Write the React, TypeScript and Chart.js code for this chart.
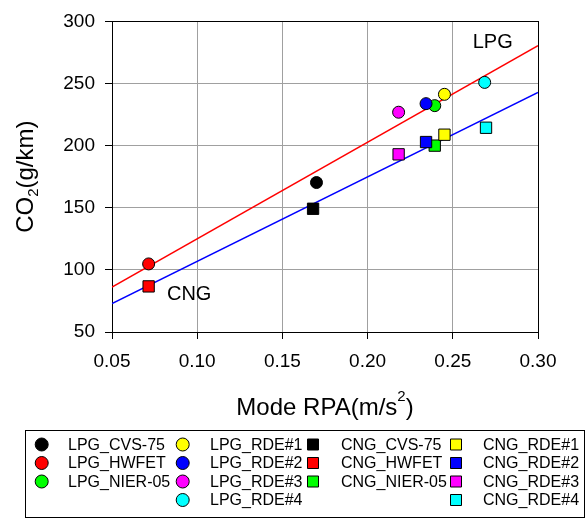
import React, { useEffect, useRef } from "react";
import { Chart, registerables } from "chart.js";

Chart.register(...registerables);

const LPG_NAMES = ["LPG_CVS-75", "LPG_HWFET", "LPG_NIER-05", "LPG_RDE#1", "LPG_RDE#2", "LPG_RDE#3", "LPG_RDE#4"];
const CNG_NAMES = ["CNG_CVS-75", "CNG_HWFET", "CNG_NIER-05", "CNG_RDE#1", "CNG_RDE#2", "CNG_RDE#3", "CNG_RDE#4"];
const MARKER_COLORS = ["#000000", "#ff0000", "#00ff00", "#ffff00", "#0000ff", "#ff00ff", "#00ffff"];

const LPG_RPA = [0.170, 0.0715, 0.2394, 0.2451, 0.2343, 0.2182, 0.2687];
const LPG_CO2 = [170.3, 104.8, 232.2, 241.3, 233.8, 226.9, 250.9];
const CNG_RPA = [0.168, 0.0715, 0.2394, 0.2451, 0.2343, 0.2182, 0.2695];
const CNG_CO2 = [149.2, 86.7, 200.0, 208.8, 202.9, 193.0, 214.4];

const FIT_RPA = [0.05, 0.30];
const LPG_FIT_CO2 = [86.2, 280.4];
const CNG_FIT_CO2 = [72.8, 242.9];

const X_TICKS = [0.05, 0.10, 0.15, 0.20, 0.25, 0.30];
const Y_TICKS = [50, 100, 150, 200, 250, 300];

const FIT_LABELS = ["LPG", "CNG"];
const FIT_LABEL_RPA = [0.2734, 0.0953];
const FIT_LABEL_CO2 = [283.2, 80.2];

const FONT = "'Liberation Sans', Arial, Helvetica, sans-serif";

export default function App() {
  const canvasRef = useRef<HTMLCanvasElement | null>(null);

  useEffect(() => {
    const canvas = canvasRef.current;
    if (!canvas) return;

    const pointSets: any[] = [];
    LPG_NAMES.forEach((name, i) => {
      pointSets.push({
        type: "scatter",
        label: name,
        data: [{ x: LPG_RPA[i], y: LPG_CO2[i] }],
        pointStyle: "circle",
        pointRadius: 6,
        backgroundColor: MARKER_COLORS[i],
        borderColor: "#000000",
        borderWidth: 1,
        order: -i,
      });
    });
    CNG_NAMES.forEach((name, i) => {
      pointSets.push({
        type: "scatter",
        label: name,
        data: [{ x: CNG_RPA[i], y: CNG_CO2[i] }],
        pointStyle: "rect",
        pointRadius: 8,
        backgroundColor: MARKER_COLORS[i],
        borderColor: "#000000",
        borderWidth: 1,
        order: -i - 10,
      });
    });

    const lineSets: any[] = [
      {
        type: "line",
        label: "LPG fit",
        data: FIT_RPA.map((x, i) => ({ x, y: LPG_FIT_CO2[i] })),
        borderColor: "#ff0000",
        borderWidth: 1.5,
        pointRadius: 0,
        fill: false,
        order: 100,
      },
      {
        type: "line",
        label: "CNG fit",
        data: FIT_RPA.map((x, i) => ({ x, y: CNG_FIT_CO2[i] })),
        borderColor: "#0000ff",
        borderWidth: 1.5,
        pointRadius: 0,
        fill: false,
        order: 101,
      },
    ];

    const framePlugin = {
      id: "frame",
      beforeDatasetsDraw(chart: any) {
        const { ctx, chartArea } = chart;
        ctx.save();
        ctx.strokeStyle = "#000000";
        ctx.lineWidth = 1;
        ctx.strokeRect(
          Math.round(chartArea.left) + 0.5,
          Math.round(chartArea.top) + 0.5,
          Math.round(chartArea.right) - Math.round(chartArea.left),
          Math.round(chartArea.bottom) - Math.round(chartArea.top)
        );
        ctx.restore();
      },
    };

    const textPlugin = {
      id: "texts",
      afterDraw(chart: any) {
        const { ctx, chartArea, scales } = chart;
        const xs = scales.x;
        const ys = scales.y;
        ctx.save();
        ctx.fillStyle = "#000000";
        ctx.textBaseline = "middle";
        ctx.textAlign = "center";

        // fit labels
        ctx.font = `20px ${FONT}`;
        FIT_LABELS.forEach((t, i) => {
          ctx.fillText(t, xs.getPixelForValue(FIT_LABEL_RPA[i]), ys.getPixelForValue(FIT_LABEL_CO2[i]));
        });

        // x title with superscript
        const big = `24px ${FONT}`;
        const small = `15px ${FONT}`;
        ctx.textAlign = "left";
        ctx.textBaseline = "alphabetic";
        ctx.font = big;
        const p1 = "Mode RPA(m/s";
        const p3 = ")";
        const w1 = ctx.measureText(p1).width;
        const w3 = ctx.measureText(p3).width;
        ctx.font = small;
        const w2 = ctx.measureText("2").width;
        const totalX = w1 + w2 + w3;
        const cx = (chartArea.left + chartArea.right) / 2;
        const baseX = 415;
        let sx = cx - totalX / 2;
        ctx.font = big;
        ctx.fillText(p1, sx, baseX);
        ctx.font = small;
        ctx.fillText("2", sx + w1, baseX - 14);
        ctx.font = big;
        ctx.fillText(p3, sx + w1 + w2, baseX);

        // y title with subscript (rotated)
        ctx.save();
        const cy = (chartArea.top + chartArea.bottom) / 2;
        ctx.translate(33, cy);
        ctx.rotate(-Math.PI / 2);
        ctx.font = big;
        const q1 = "CO";
        const q3 = "(g/km)";
        const v1 = ctx.measureText(q1).width;
        const v3 = ctx.measureText(q3).width;
        ctx.font = small;
        const v2 = ctx.measureText("2").width;
        let sy = -(v1 + v2 + v3) / 2;
        ctx.font = big;
        ctx.fillText(q1, sy, 0);
        ctx.font = small;
        ctx.fillText("2", sy + v1, 5);
        ctx.font = big;
        ctx.fillText(q3, sy + v1 + v2, 0);
        ctx.restore();

        // legend
        const boxL = 25, boxT = 430, boxW = 559, boxH = 87;
        ctx.strokeStyle = "#000000";
        ctx.lineWidth = 1;
        ctx.strokeRect(boxL + 0.5, boxT + 0.5, boxW, boxH);
        const markerX = [41.7, 182.7, 313, 456];
        const labelX = [68, 210, 341, 483];
        const rowY = [444.5, 463, 481.5, 500];
        const columns = [
          [0, 1, 2].map((i) => ({ name: LPG_NAMES[i], color: MARKER_COLORS[i], shape: "circle" })),
          [3, 4, 5, 6].map((i) => ({ name: LPG_NAMES[i], color: MARKER_COLORS[i], shape: "circle" })),
          [0, 1, 2].map((i) => ({ name: CNG_NAMES[i], color: MARKER_COLORS[i], shape: "rect" })),
          [3, 4, 5, 6].map((i) => ({ name: CNG_NAMES[i], color: MARKER_COLORS[i], shape: "rect" })),
        ];
        ctx.font = `16px ${FONT}`;
        ctx.textBaseline = "middle";
        ctx.textAlign = "left";
        columns.forEach((col, c) => {
          col.forEach((item, r) => {
            const mx = markerX[c];
            const my = rowY[r];
            ctx.fillStyle = item.color;
            ctx.strokeStyle = "#000000";
            ctx.beginPath();
            if (item.shape === "circle") {
              ctx.arc(mx, my, 6.5, 0, Math.PI * 2);
            } else {
              ctx.rect(mx - 5.5, my - 5.5, 11, 11);
            }
            ctx.fill();
            ctx.stroke();
            ctx.fillStyle = "#000000";
            ctx.fillText(item.name, labelX[c], my + 1);
          });
        });
        ctx.restore();
      },
    };

    const chart = new Chart(canvas, {
      type: "scatter",
      data: { datasets: [...lineSets, ...pointSets] },
      options: {
        animation: false,
        responsive: false,
        maintainAspectRatio: false,
        devicePixelRatio: 1,
        layout: { padding: { left: 0, right: 50, top: 8, bottom: 86 } },
        plugins: {
          legend: { display: false },
          tooltip: { enabled: false },
        },
        scales: {
          x: {
            type: "linear",
            min: 0.05,
            max: 0.30,
            afterBuildTicks: (scale: any) => {
              scale.ticks = X_TICKS.map((v) => ({ value: v }));
            },
            afterFit: (scale: any) => {
              scale.height = 100;
            },
            ticks: {
              color: "#000000",
              font: { family: FONT, size: 19 },
              padding: 11,
              maxRotation: 0,
              callback: (v: any) => Number(v).toFixed(2),
            },
            grid: {
              color: "#a0a0a0",
              lineWidth: 1,
              tickColor: "#000000",
              tickLength: 7,
            },
            border: { color: "#000000", width: 1 },
          },
          y: {
            type: "linear",
            min: 50,
            max: 300,
            afterBuildTicks: (scale: any) => {
              scale.ticks = Y_TICKS.map((v) => ({ value: v }));
            },
            afterFit: (scale: any) => {
              scale.width = 112;
            },
            ticks: {
              color: "#000000",
              font: { family: FONT, size: 19 },
              padding: 10,
              callback: (v: any) => String(v),
            },
            grid: {
              color: "#a0a0a0",
              lineWidth: 1,
              tickColor: "#000000",
              tickLength: 7,
            },
            border: { color: "#000000", width: 1 },
          },
        },
      },
      plugins: [framePlugin, textPlugin],
    } as any);

    return () => {
      chart.destroy();
    };
  }, []);

  return (
    <div style={{ position: "fixed", left: 0, top: 0, width: 588, height: 518, background: "#ffffff" }}>
      <canvas ref={canvasRef} width={588} height={518} style={{ width: 588, height: 518, display: "block" }} />
    </div>
  );
}
